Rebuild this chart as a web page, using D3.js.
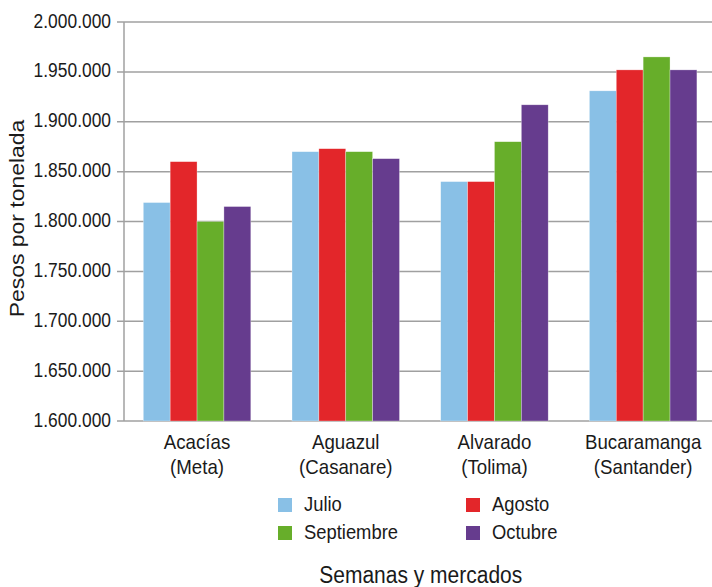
<!DOCTYPE html>
<html>
<head>
<meta charset="utf-8">
<script src="https://cdn.jsdelivr.net/npm/d3@7"></script>
<style>
  html, body { margin: 0; padding: 0; background: #fff; }
  svg { display: block; font-family: "Liberation Sans", Arial, Helvetica, sans-serif; }
</style>
</head>
<body>
<svg id="chart" width="712" height="587"></svg>
<script>
// ---- data ----
const categories = ["Acacías", "Aguazul", "Alvarado", "Bucaramanga"];
const regions = ["(Meta)", "(Casanare)", "(Tolima)", "(Santander)"];
const seriesNames = ["Julio", "Agosto", "Septiembre", "Octubre"];
const julio = [1819000, 1870000, 1840000, 1931000];
const agosto = [1860000, 1873000, 1840000, 1952000];
const septiembre = [1800000, 1870000, 1880000, 1965000];
const octubre = [1815000, 1863000, 1917000, 1952000];
const yTicks = [1600000, 1650000, 1700000, 1750000, 1800000, 1850000, 1900000, 1950000, 2000000];
const colors = ["#89c0e6", "#e3262a", "#67ae2a", "#663c8e"];
const yTitle = "Pesos por tonelada";
const xTitle = "Semanas y mercados";

const seriesValues = [julio, agosto, septiembre, octubre];
const SY = 1.12; // vertical stretch of text in the reference

const svg = d3.select("#chart");
const mLeft = 124, mRight = 717.5, mTop = 22, mBottom = 421;

const y = d3.scaleLinear().domain([1600000, 2000000]).range([mBottom, mTop]);
const x0 = d3.scaleBand().domain(categories).range([122.7, mRight]).paddingInner(0.277).paddingOuter(0.1385);
const x1 = d3.scaleBand().domain(seriesNames).range([0, x0.bandwidth()]).padding(0);

const loc = d3.formatLocale({decimal: ",", thousands: ".", grouping: [3], currency: ["$", ""]});
const fmt = loc.format(",");

// gridlines
svg.append("g").selectAll("line").data(yTicks).join("line")
  .attr("x1", 117).attr("x2", 712)
  .attr("y1", d => y(d)).attr("y2", d => y(d))
  .attr("stroke", "#a0a0a0").attr("stroke-width", 1.5);

// y axis line
svg.append("line").attr("x1", mLeft).attr("x2", mLeft).attr("y1", mTop).attr("y2", mBottom)
  .attr("stroke", "#a0a0a0").attr("stroke-width", 1.5);

// tick labels
svg.append("g").selectAll("text").data(yTicks).join("text")
  .attr("transform", d => `translate(111,${y(d) + 5.5}) scale(1,${SY})`)
  .attr("text-anchor", "end")
  .attr("font-size", 17.4)
  .attr("fill", "#1a1a1a")
  .text(d => fmt(d));

// bars
const groups = svg.append("g").selectAll("g").data(categories).join("g")
  .attr("transform", d => `translate(${x0(d)},0)`);
groups.selectAll("rect")
  .data((d, i) => seriesNames.map((s, j) => ({s, v: seriesValues[j][i], c: colors[j]})))
  .join("rect")
  .attr("x", d => x1(d.s))
  .attr("width", x1.bandwidth())
  .attr("y", d => y(d.v))
  .attr("height", d => y(1600000) - y(d.v))
  .attr("fill", d => d.c)
  .attr("stroke", "#ffffff").attr("stroke-opacity", 0.5).attr("stroke-width", 0.6);

// x labels
const xl = svg.append("g");
categories.forEach((c, i) => {
  const cx = x0(c) + x0.bandwidth() / 2;
  xl.append("text").attr("transform", `translate(${cx},449) scale(1,${SY})`)
    .attr("text-anchor", "middle").attr("font-size", 18.7).attr("fill", "#1a1a1a").text(c);
  xl.append("text").attr("transform", `translate(${cx},473.5) scale(1,${SY})`)
    .attr("text-anchor", "middle").attr("font-size", 18.7).attr("fill", "#1a1a1a").text(regions[i]);
});

// y title
svg.append("text")
  .attr("transform", `translate(24,${(mTop + mBottom) / 2 - 3}) scale(1,${SY}) rotate(-90)`)
  .attr("text-anchor", "middle").attr("font-size", 20.5).attr("fill", "#1a1a1a")
  .text(yTitle);

// legend
const legX = [278, 466], legY = [498, 526];
const leg = svg.append("g");
seriesNames.forEach((s, j) => {
  const lx = legX[j % 2], ly = legY[Math.floor(j / 2)];
  leg.append("rect").attr("x", lx).attr("y", ly).attr("width", 14).attr("height", 14).attr("fill", colors[j]);
  leg.append("text").attr("transform", `translate(${lx + 26},${ly + 13}) scale(1,${SY})`)
    .attr("font-size", 18.4).attr("fill", "#1a1a1a").text(s);
});

// x title
svg.append("text").attr("transform", `translate(${(mLeft + mRight) / 2},583) scale(1,${SY})`)
  .attr("text-anchor", "middle").attr("font-size", 21).attr("fill", "#1a1a1a").text(xTitle);
</script>
</body>
</html>
